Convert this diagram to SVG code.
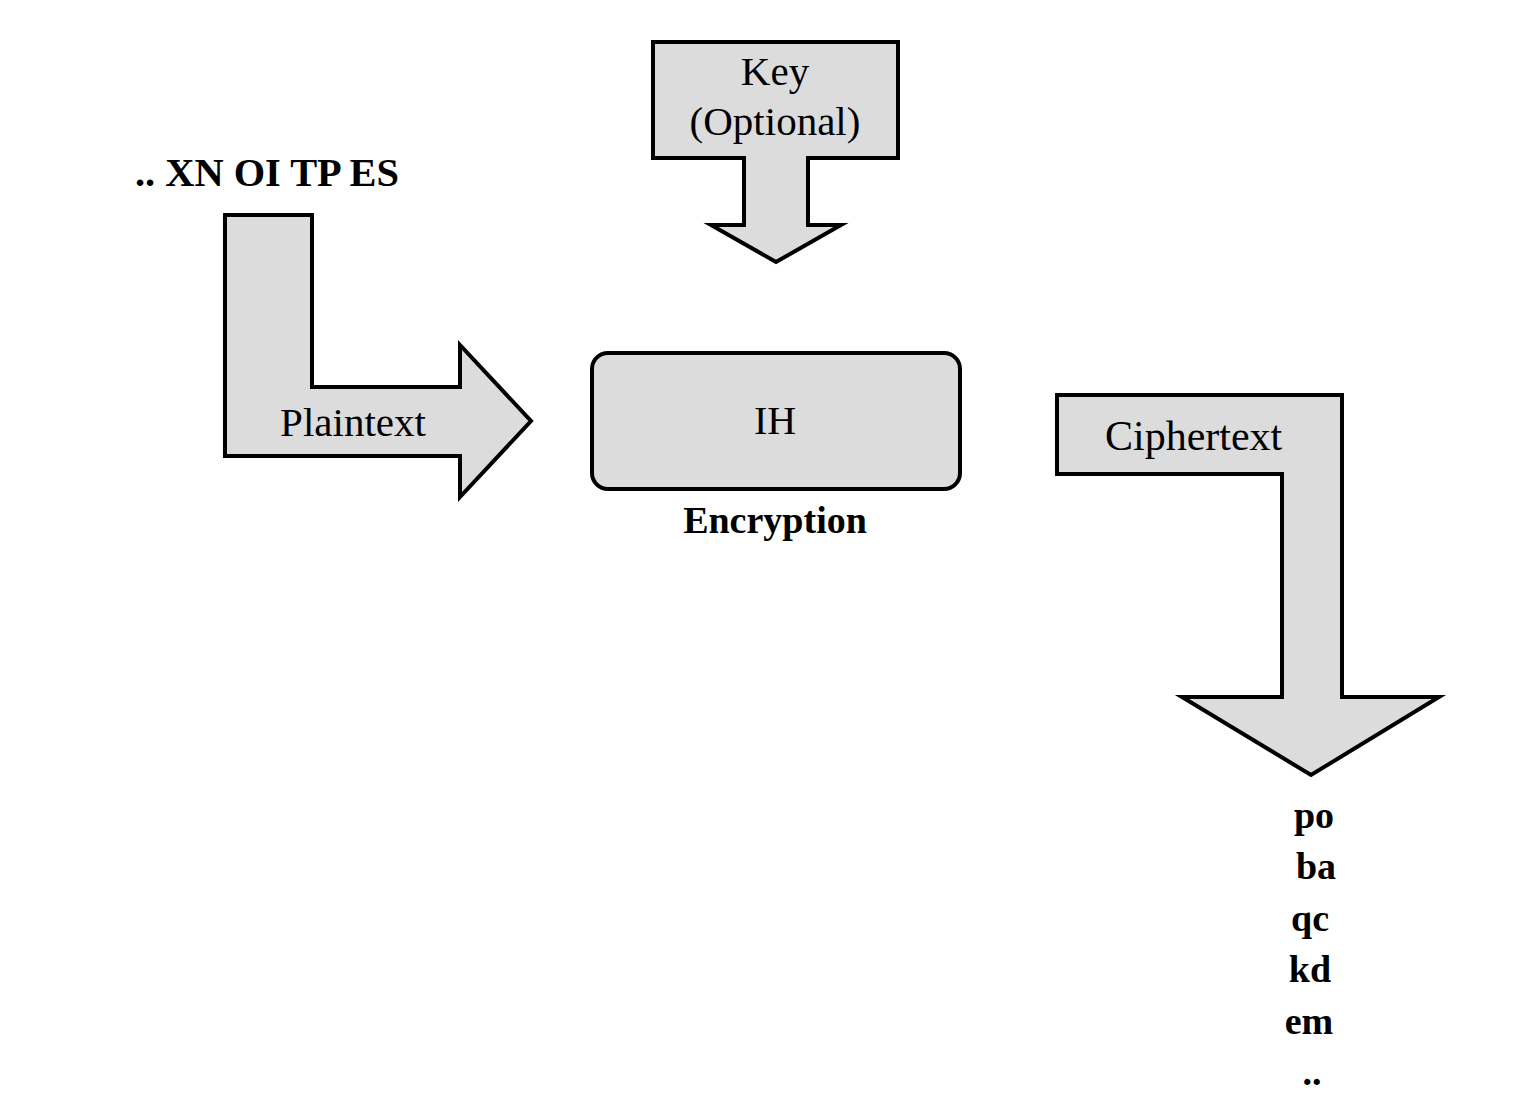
<svg xmlns="http://www.w3.org/2000/svg" width="1514" height="1094" viewBox="0 0 1514 1094">
<style>
.shape{fill:#dcdcdc;stroke:#000;stroke-width:4;stroke-linejoin:miter}
.t{font-family:"Liberation Serif","Times New Roman",serif;fill:#000}
.b{font-weight:bold}
</style>
<rect width="1514" height="1094" fill="#fff"/>
<g id="connectors">
<g id="plaintext-arrow">
<polygon class="shape" points="225,215 312,215 312,387 460,387 460,345 531,421 460,497 460,456 225,456"/>
<text class="t" x="353" y="436" font-size="41" text-anchor="middle">Plaintext</text>
</g>
<g id="key-arrow">
<polygon class="shape" points="653,42 898,42 898,158 808,158 808,225 841,225 776,262 711,225 744,225 744,158 653,158"/>
<text class="t" x="775" y="85" font-size="41" text-anchor="middle">Key</text>
<text class="t" x="775" y="135" font-size="41" text-anchor="middle">(Optional)</text>
</g>
<g id="ciphertext-arrow">
<polygon class="shape" points="1057,395 1342,395 1342,697 1439,697 1311,775 1182,697 1282,697 1282,474 1057,474"/>
<text class="t" x="1105" y="450" font-size="42">Ciphertext</text>
</g>
</g>
<g id="input-label">
<text class="t b" x="135" y="186" font-size="40" textLength="264" lengthAdjust="spacingAndGlyphs">.. XN OI TP ES</text>
</g>
<g id="encryption">
<rect class="shape" x="592" y="353" width="368" height="136" rx="16" ry="16"/>
<text class="t" x="775" y="434" font-size="40" text-anchor="middle">IH</text>
<text class="t b" x="775" y="533" font-size="38" text-anchor="middle">Encryption</text>
</g>
<g id="output-label" class="t b" font-size="38" text-anchor="middle">
<text x="1314" y="828">po</text>
<text x="1316" y="879">ba</text>
<text x="1310" y="931">qc</text>
<text x="1310" y="982">kd</text>
<text x="1309" y="1034">em</text>
<text x="1312" y="1085">..</text>
</g>
</svg>
